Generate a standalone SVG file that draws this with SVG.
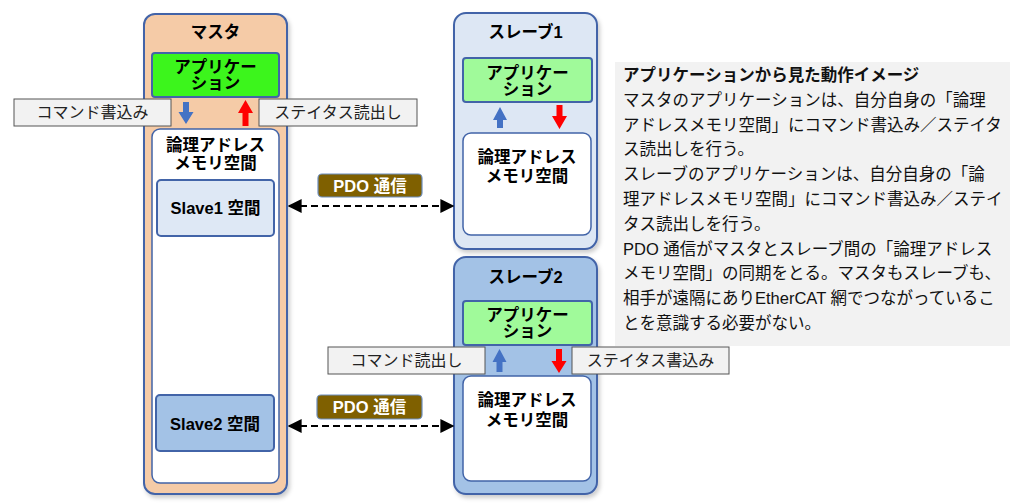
<svg xmlns="http://www.w3.org/2000/svg" width="1024" height="504" viewBox="0 0 1024 504">
<style>
text{font-family:"Liberation Sans","Noto Sans CJK JP",sans-serif;fill:#000}
.b{font-weight:bold;font-size:16.5px;text-anchor:middle}
.lbl{font-size:16px;text-anchor:middle;fill:#222}
.p{font-size:16.5px;fill:#111}
.box{stroke:#4264A8;stroke-width:2}
.inner{fill:#fff;stroke:#4264A8;stroke-width:1.5}
.tag{fill:#F2F2F2;stroke:#555;stroke-width:1}
.pdo{fill:#7F6000;stroke:#6C8EBF;stroke-width:1.2}
.pdot{font-weight:bold;font-size:16.5px;text-anchor:middle;fill:#fff}
.blue{fill:#4472C4}
.red{fill:#FF0000}
.dash{stroke:#000;stroke-width:2;stroke-dasharray:7 4;fill:none}
</style>
<defs>
<filter id="sh" x="-10%" y="-10%" width="130%" height="130%">
<feDropShadow dx="2" dy="3" stdDeviation="2" flood-color="#000" flood-opacity="0.2"/>
</filter>
<marker id="ah" viewBox="0 0 10 10" refX="9" refY="5" markerWidth="7" markerHeight="7" orient="auto-start-reverse" markerUnits="strokeWidth">
<path d="M0,0 L10,5 L0,10 z" fill="#000"/>
</marker>
</defs>

<g id="master">
<rect class="box" x="144" y="14" width="143" height="480" rx="11" fill="#F5CBA7" filter="url(#sh)"/>
<text class="b" x="215.5" y="38">マスタ</text>
<g id="master-app">
<rect class="box" x="152" y="53" width="127" height="44" rx="3" fill="#3CF51C" stroke-width="1.5"/>
<text class="b" x="215.5" y="73">アプリケー</text>
<text class="b" x="215.5" y="89">ション</text>
</g>
<g id="master-mem">
<rect class="inner" x="152" y="129" width="127" height="354" rx="8"/>
<text class="b" x="215.5" y="151">論理アドレス</text>
<text class="b" x="215.5" y="169">メモリ空間</text>
</g>
<g id="slave1-space">
<rect class="box" x="157" y="180" width="117" height="56" rx="4" fill="#DEE8F5" stroke-width="1.5"/>
<text class="b" x="215.5" y="214">Slave1 空間</text>
</g>
<g id="slave2-space">
<rect class="box" x="156" y="395" width="118" height="56" rx="4" fill="#A3C2E6" stroke-width="1.5"/>
<text class="b" x="215" y="430">Slave2 空間</text>
</g>
<polygon class="blue" points="183,102 189,102 189,112 193.5,112 186,124 178.5,112 183,112"/>
<polygon class="red" points="245.5,100 253,113 248.5,113 248.5,126 242.5,126 242.5,113 238,113"/>
</g>

<g id="tag-cmd-write">
<rect class="tag" x="14" y="99" width="157" height="27"/>
<text class="lbl" x="92.5" y="118">コマンド書込み</text>
</g>
<g id="tag-status-read">
<rect class="tag" x="259" y="99" width="158" height="27"/>
<text class="lbl" x="338" y="118">ステイタス読出し</text>
</g>

<g id="slave1">
<rect class="box" x="454" y="13" width="143" height="236" rx="12" fill="#DDE7F4" filter="url(#sh)"/>
<text class="b" x="525.5" y="38">スレーブ1</text>
<rect class="box" x="463" y="58" width="129" height="44" rx="3" fill="#A0FA9A" stroke-width="1.5"/>
<text class="b" x="527.5" y="79">アプリケー</text>
<text class="b" x="527.5" y="95">ション</text>
<rect class="inner" x="463" y="133" width="128" height="102" rx="8"/>
<text class="b" x="527" y="163">論理アドレス</text>
<text class="b" x="527" y="182">メモリ空間</text>
<polygon class="blue" points="500,107 507,120 503,120 503,128 497,128 497,120 493,120"/>
<polygon class="red" points="556.5,105 562.5,105 562.5,116 567,116 559.5,129 552,116 556.5,116"/>
</g>

<g id="slave2">
<rect class="box" x="454" y="257" width="143" height="237" rx="12" fill="#A3C2E6" filter="url(#sh)"/>
<text class="b" x="525.5" y="283">スレーブ2</text>
<rect class="box" x="463" y="301" width="129" height="44" rx="3" fill="#A0FA9A" stroke-width="1.5"/>
<text class="b" x="527.5" y="321">アプリケー</text>
<text class="b" x="527.5" y="337">ション</text>
<rect class="inner" x="463" y="376" width="128" height="105" rx="8"/>
<text class="b" x="527" y="406">論理アドレス</text>
<text class="b" x="527" y="426">メモリ空間</text>
<polygon class="blue" points="499.5,349 506.5,362 502.5,362 502.5,372 496.5,372 496.5,362 492.5,362"/>
<polygon class="red" points="556,349 562,349 562,361 566.5,361 559,373 551.5,361 556,361"/>
</g>

<g id="tag-cmd-read">
<rect class="tag" x="328" y="347" width="157" height="27"/>
<text class="lbl" x="406.5" y="366">コマンド読出し</text>
</g>
<g id="tag-status-write">
<rect class="tag" x="572" y="347" width="157" height="27"/>
<text class="lbl" x="650.5" y="366">ステイタス書込み</text>
</g>

<g id="connectors">
<line class="dash" x1="289" y1="206" x2="453" y2="206" marker-start="url(#ah)" marker-end="url(#ah)"/>
<line class="dash" x1="289" y1="426" x2="453" y2="426" marker-start="url(#ah)" marker-end="url(#ah)"/>
</g>

<g id="pdo1">
<rect class="pdo" x="318" y="174" width="104" height="23" rx="4"/>
<text class="pdot" x="370" y="192">PDO 通信</text>
</g>
<g id="pdo2">
<rect class="pdo" x="317" y="395" width="105" height="24" rx="4"/>
<text class="pdot" x="369.5" y="413">PDO 通信</text>
</g>

<g id="note">
<rect x="615" y="62" width="395" height="284" fill="#F2F2F2"/>
<text class="p" x="623" y="81" font-weight="bold">アプリケーションから見た動作イメージ</text>
<text class="p" x="623" y="105.8">マスタのアプリケーションは、自分自身の「論理</text>
<text class="p" x="623" y="130.6">アドレスメモリ空間」にコマンド書込み／ステイタ</text>
<text class="p" x="623" y="155.4">ス読出しを行う。</text>
<text class="p" x="623" y="180.2">スレーブのアプリケーションは、自分自身の「論</text>
<text class="p" x="623" y="205">理アドレスメモリ空間」にコマンド書込み／ステイ</text>
<text class="p" x="623" y="229.8">タス読出しを行う。</text>
<text class="p" x="623" y="254.6">PDO 通信がマスタとスレーブ間の「論理アドレス</text>
<text class="p" x="623" y="279.4">メモリ空間」の同期をとる。マスタもスレーブも、</text>
<text class="p" x="623" y="304.2">相手が遠隔にありEtherCAT 網でつながっているこ</text>
<text class="p" x="623" y="329">とを意識する必要がない。</text>
</g>
</svg>
